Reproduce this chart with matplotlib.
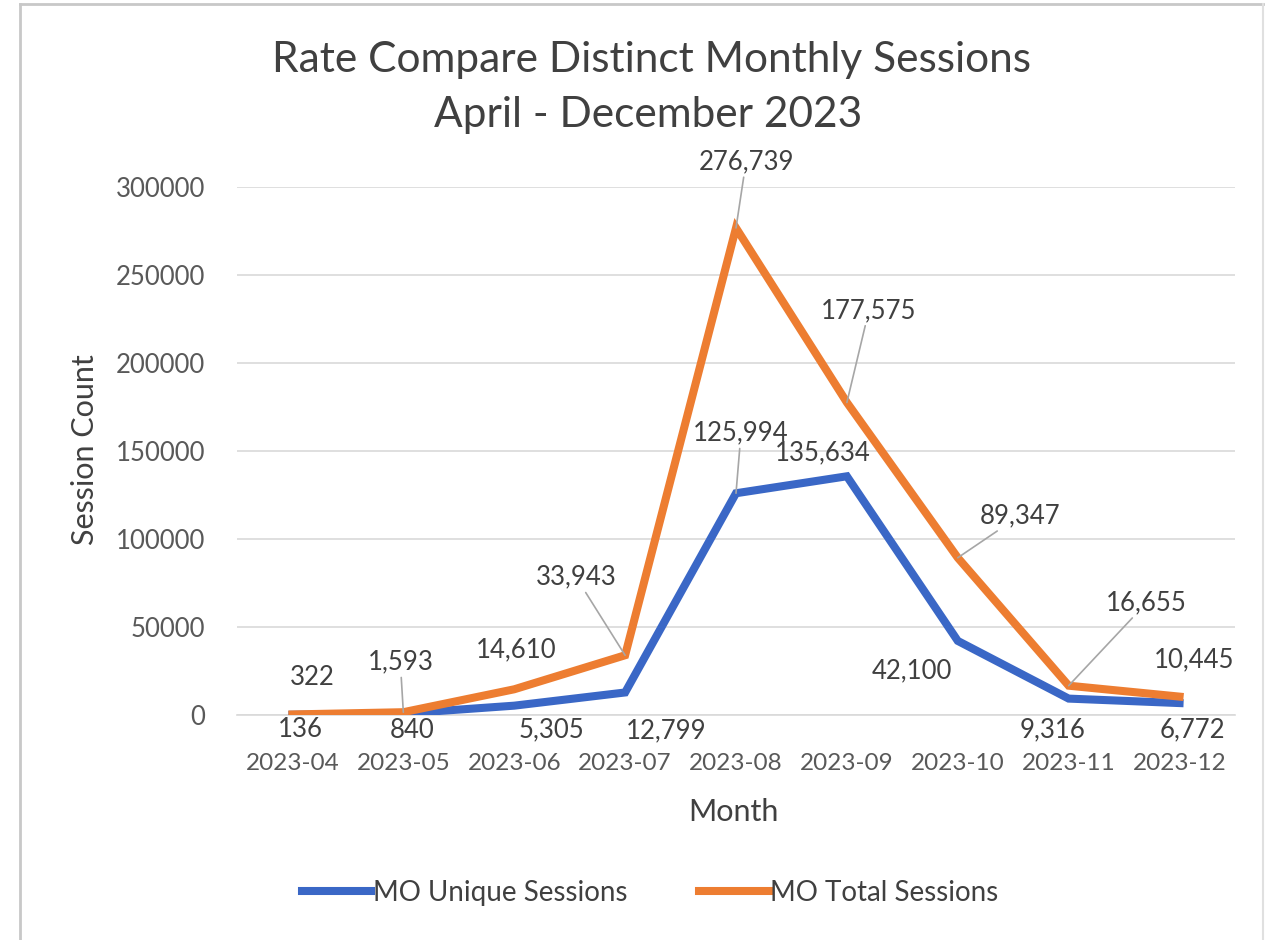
import matplotlib
matplotlib.use("Agg")
import matplotlib.pyplot as plt
from matplotlib.lines import Line2D

months = ["2023-04", "2023-05", "2023-06", "2023-07", "2023-08",
          "2023-09", "2023-10", "2023-11", "2023-12"]
unique_sessions = [136, 840, 5305, 12799, 125994, 135634, 42100, 9316, 6772]
total_sessions = [322, 1593, 14610, 33943, 276739, 177575, 89347, 16655, 10445]
yticks = [0, 50000, 100000, 150000, 200000, 250000, 300000]

# label offsets in pixels (dx, dy) and whether a leader line is drawn
total_offsets = [(20, 37, False), (-3, 50, True), (2, 39, False), (-49, 78, True),
                 (10, 66, True), (22, 92, True), (62, 42, True), (78, 83, True),
                 (15, 37, False)]
unique_offsets = [(8, -15, False), (9, -17, False), (37, -24, False), (41, -38, False),
                  (5, 60, True), (-24, 23, False), (-46, -30, False), (-16, -31, False),
                  (13, -27, False)]

FONT = "Lato"
BLUE = "#3A67C6"
ORANGE = "#ED7D31"
TXT = "#404040"
TICK = "#595959"

plt.rcParams["font.family"] = [FONT, "DejaVu Sans"]

fig = plt.figure(figsize=(12.66, 9.4), dpi=100)
ax = fig.add_axes([237 / 1266, (940 - 715) / 940, (1235 - 237) / 1266, (715 - 187) / 940])

x = list(range(len(months)))
ax.plot(x, unique_sessions, color=BLUE, lw=5.8, solid_joinstyle="miter", label="MO Unique Sessions", zorder=3)
ax.plot(x, total_sessions, color=ORANGE, lw=5.8, solid_joinstyle="miter", label="MO Total Sessions", zorder=4)

ax.set_xlim(-0.5, len(months) - 0.5)
ax.set_ylim(0, 300000)
ax.set_yticks(yticks)
ax.set_yticklabels([str(v) for v in yticks])
ax.set_xticks(x)
ax.set_xticklabels(months)
ax.grid(axis="y", color="#D9D9D9", lw=1.2, zorder=0)
ax.set_axisbelow(True)
for s in ["top", "right", "left"]:
    ax.spines[s].set_visible(False)
ax.spines["bottom"].set_color("#D9D9D9")
ax.spines["bottom"].set_linewidth(1.2)
ax.tick_params(axis="both", length=0, labelcolor=TICK)
ax.tick_params(axis="y", pad=23, labelsize=18.5)
ax.tick_params(axis="x", pad=27, labelsize=17.5)

ax.set_ylabel("Session Count", fontsize=22, color=TXT)
ax.set_xlabel("Month", fontsize=22, color=TXT)
ax.yaxis.set_label_coords((85 - 237) / (1235 - 237), (715 - 450) / (715 - 187))
ax.xaxis.set_label_coords((733 - 237) / (1235 - 237), -(812 - 715) / (715 - 187))
ax.yaxis.label.set_va("center")
ax.xaxis.label.set_va("center")

def label(series, offsets):
    for i, (v, (dx, dy, lead)) in enumerate(zip(series, offsets)):
        kw = {}
        if lead:
            kw["arrowprops"] = dict(arrowstyle="-", color="#A6A6A6", lw=1.2,
                                    shrinkA=0, shrinkB=0)
        ax.annotate(f"{v:,}", xy=(i, v), xytext=(dx, dy), textcoords="offset pixels",
                    ha="center", va="center", fontsize=18.5, color=TXT, zorder=6,
                    annotation_clip=False, **kw)

label(total_sessions, total_offsets)
label(unique_sessions, unique_offsets)

fig.text(651 / 1266, 1 - 60 / 940, "Rate Compare Distinct Monthly Sessions",
         ha="center", va="center", fontsize=30.5, color=TXT)
fig.text(648 / 1266, 1 - 115 / 940, "April - December 2023",
         ha="center", va="center", fontsize=30.5, color=TXT)

handles = [Line2D([], [], color=BLUE, lw=5.8), Line2D([], [], color=ORANGE, lw=5.8)]
fig.legend(handles, ["MO Unique Sessions", "MO Total Sessions"], loc="center",
           bbox_to_anchor=(650 / 1266, 1 - 893 / 940), ncol=2, frameon=False,
           fontsize=20, handlelength=2.5, handletextpad=0.05, columnspacing=2.6,
           labelcolor=TXT)

# outer frame
fig.add_artist(Line2D([20 / 1266, 20 / 1266], [0, 1 - 4 / 940], color="#C8C8C8", lw=2, transform=fig.transFigure))
fig.add_artist(Line2D([20 / 1266, 1263 / 1266], [1 - 4 / 940, 1 - 4 / 940], color="#C8C8C8", lw=2, transform=fig.transFigure))
fig.add_artist(Line2D([1263 / 1266, 1263 / 1266], [0, 1 - 4 / 940], color="#E0E0E0", lw=1.5, transform=fig.transFigure))

fig.savefig("out.png", dpi=100, facecolor="white")
